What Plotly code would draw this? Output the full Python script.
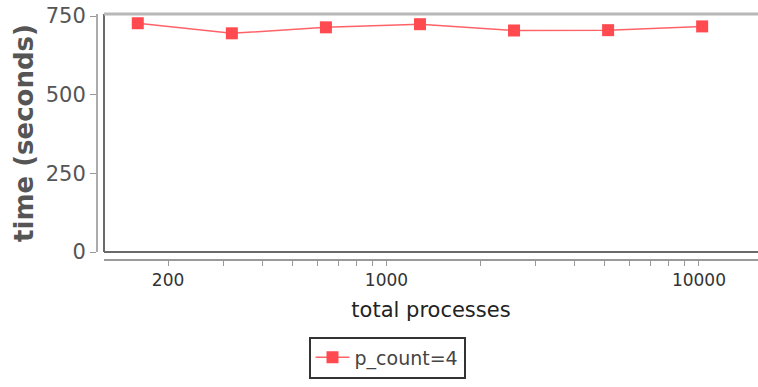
import plotly.graph_objects as go

# Data
total_processes = [160, 320, 640, 1280, 2560, 5120, 10240]
time_seconds = [727, 695, 714, 724, 704, 705, 717]
series_name = "p_count=4"

x_tickvals = [200, 300, 400, 500, 600, 700, 800, 900,
              1000, 2000, 3000, 4000, 5000, 6000, 7000, 8000, 9000, 10000]
x_ticktext = ["200", "", "", "", "", "", "", "",
              "1000", "", "", "", "", "", "", "", "", "10000"]
y_tickvals = [0, 250, 500, 750]
y_ticktext = ["0", "250", "500", "750"]

W, H = 758, 387
ml, mr, mt, mb = 97, 0, 14, 127
pw, ph = W - ml - mr, H - mt - mb

fig = go.Figure()
fig.add_trace(go.Scatter(
    x=total_processes, y=time_seconds, name=series_name,
    mode="lines+markers",
    line=dict(color="#ff6368", width=1.5),
    marker=dict(symbol="square", size=12, color="#ff4a50"),
    showlegend=True,
))

fig.update_layout(
    width=W, height=H,
    margin=dict(l=ml, r=mr, t=mt, b=mb, pad=0),
    paper_bgcolor="white", plot_bgcolor="white",
    font=dict(family="DejaVu Sans", color="#444"),
    xaxis=dict(
        type="log", domain=[7 / pw, 1], anchor="free", position=0,
        range=[2.096, 4.189],
        tickvals=x_tickvals, ticktext=x_ticktext,
        ticks="outside", ticklen=5, tickwidth=1, tickcolor="#999",
        showline=True, linecolor="#9a9a9a", linewidth=2,
        showgrid=False, zeroline=False,
        tickfont=dict(size=17, color="#333"),
        title=dict(text="total processes", font=dict(size=21, color="#222"), standoff=12),
    ),
    yaxis=dict(
        domain=[8 / ph, 1], anchor="free", position=0,
        range=[0, 756.4],
        tickvals=y_tickvals, ticktext=y_ticktext,
        ticks="outside", ticklen=6, tickwidth=1, tickcolor="#999",
        showline=True, linecolor="#ababab", linewidth=2,
        showgrid=False, zeroline=False,
        tickfont=dict(size=21, color="#555"),
        title=dict(text="<b>time (seconds)</b>", font=dict(size=26, color="#555"), standoff=4),
    ),
    legend=dict(
        orientation="h", x=(387 - ml) / pw, xanchor="center",
        y=(mt + ph - 357.5) / ph, yanchor="middle",
        bordercolor="#333", borderwidth=2, bgcolor="white",
        font=dict(size=19, color="#444"),
        itemwidth=34,
    ),
    shapes=[
        dict(type="line", xref="x domain", yref="y domain", x0=0, x1=0, y0=0, y1=1,
             line=dict(color="#6a6a6a", width=2)),
        dict(type="line", xref="x domain", yref="y domain", x0=0, x1=1.02, y0=0, y1=0,
             line=dict(color="#6a6a6a", width=2)),
        dict(type="line", xref="x domain", yref="y domain", x0=0, x1=1.02, y0=1, y1=1,
             line=dict(color="#b8b8b8", width=3)),
    ],
)

fig.write_html("out.html")
